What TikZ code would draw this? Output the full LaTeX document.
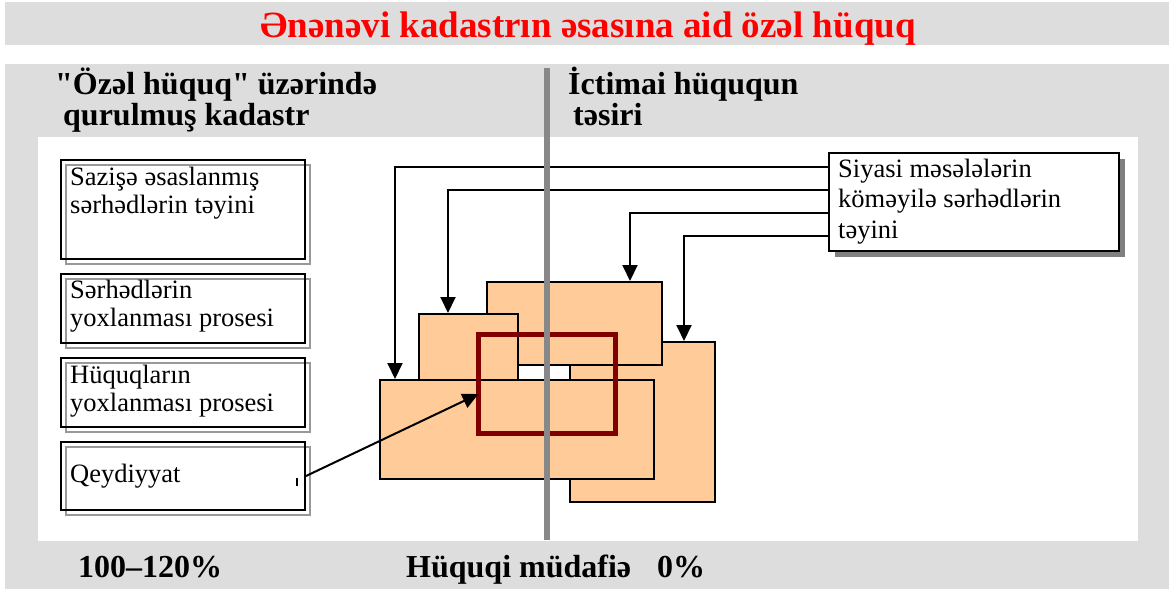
\documentclass[tikz,border=0pt]{standalone}
\usepackage{fontspec}
\setmainfont{Liberation Serif}[Ligatures=TeXOff]
\usetikzlibrary{arrows.meta,shadows}
\definecolor{panel}{HTML}{DDDDDD}
\definecolor{peach}{HTML}{FFCC99}
\definecolor{maroon}{HTML}{800000}
\definecolor{divider}{HTML}{888888}
\definecolor{titlered}{HTML}{FF0000}
\begin{document}
\begin{tikzpicture}[x=1pt,y=-1pt,
  boxtext/.style={font=\fontsize{26.5}{28}\selectfont, align=left, anchor=base west, inner sep=0pt},
  headtext/.style={font=\bfseries\fontsize{32}{27}\selectfont, align=left, anchor=base west, inner sep=0pt},
  leftbox/.style={draw=black, line width=2pt, anchor=north west, inner sep=0pt, minimum width=244pt,
    copy shadow={shadow xshift=5pt, shadow yshift=-5pt, draw=black!40, line width=2pt, fill=none}},
  peachbox/.style={draw=black, line width=1.5pt, fill=peach, anchor=north west, inner sep=0pt},
  arr/.style={draw=black, line width=2pt, -{Triangle[length=16pt,width=15pt]}},
]
\useasboundingbox (0,0) rectangle (1169,589);
% backgrounds
\fill[white] (0,0) rectangle (1169,589);
\fill[panel] (5,2) rectangle (1169,45);
\fill[panel] (5,64) rectangle (1169,589);
\fill[white] (38,137) rectangle (1138,541);

% title
\node[font=\bfseries\fontsize{37}{40}\selectfont, text=titlered, anchor=base, inner sep=0pt] (title) at (588,37) {Ənənəvi kadastrın əsasına aid özəl hüquq};

% headers (base anchor = last line)
\node[headtext] (hleft) at (55,125) {"Özəl hüquq" üzərində\\\hspace*{8pt}qurulmuş kadastr};
\node[headtext] (hright) at (568,125) {İctimai hüququn\\\hspace*{5pt}təsiri};

% left boxes
\node[leftbox, minimum height=99pt] (b1) at (60,159) {};
\node[leftbox, minimum height=69pt] (b2) at (60,273) {};
\node[leftbox, minimum height=69pt] (b3) at (60,357) {};
\node[leftbox, minimum height=68pt] (b4) at (60,441) {};
\node[boxtext] (t1) at (70,213) {Sazişə əsaslanmış\\sərhədlərin təyini};
\node[boxtext] (t2) at (70,326) {Sərhədlərin\\yoxlanması prosesi};
\node[boxtext] (t3) at (70,411) {Hüquqların\\yoxlanması prosesi};
\node[boxtext] (t4) at (70,482) {Qeydiyyat};
\draw[line width=1.5pt] (297,478) -- (297,486);

% peach rectangles
\node[peachbox, minimum width=145pt, minimum height=160pt] (rB) at (569,341) {};
\node[peachbox, minimum width=175pt, minimum height=83pt] (rC) at (486,281) {};
\node[peachbox, minimum width=99pt, minimum height=87pt] (rD) at (418,313) {};
\node[peachbox, minimum width=274pt, minimum height=99pt] (rA) at (379,379) {};
\node[draw=maroon, line width=5pt, anchor=north west, inner sep=0pt, minimum width=137pt, minimum height=99pt, outer sep=0pt] (red) at (478.5,334.5) {};

% right box
\node[draw=black, line width=2pt, fill=white, anchor=north west, inner sep=0pt, minimum width=290pt, minimum height=98pt,
  drop shadow={shadow xshift=6pt, shadow yshift=-6pt, fill=black!50, opacity=1}] (siy) at (828,152) {};
\node[boxtext, font=\fontsize{26.5}{30.5}\selectfont] (ts) at (838,238) {Siyasi məsələlərin\\köməyilə sərhədlərin\\təyini};

% connectors
\draw[arr] (siy.west |- 0,167) -| ([xshift=16pt]rA.north west);
\draw[arr] (siy.west |- 0,190) -| ([xshift=30pt]rD.north west);
\draw[arr] (siy.west |- 0,213) -| ([xshift=144pt]rC.north west);
\draw[arr] (siy.west |- 0,236) -| ([xshift=115pt]rB.north west);
\draw[arr] (b4.east) -- ([yshift=-10pt]red.west);

% divider
\draw[divider, line width=6pt] (547,68) -- (547,540);

% bottom texts
\node[headtext] (p1) at (78,577) {100–120\%};
\node[headtext] (p2) at (406,577) {\makebox[251pt][l]{Hüquqi müdafiə}0\%};
\end{tikzpicture}
\end{document}
